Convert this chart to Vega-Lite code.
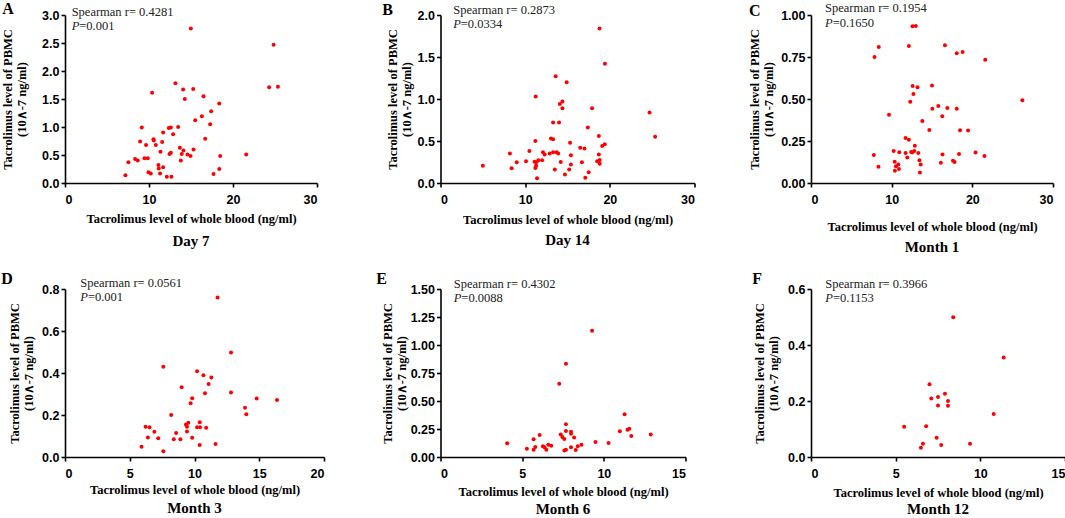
{
  "$schema": "https://vega.github.io/schema/vega-lite/v6.json",
  "background": "white",
  "padding": {"left": 1, "top": 0, "right": 2, "bottom": 0},
  "datasets": {
    "ann": [
      {"p": "A", "letter": "A", "r": "Spearman r= 0.4281", "pv": "=0.001"},
      {"p": "B", "letter": "B", "r": "Spearman r= 0.2873", "pv": "=0.0334"},
      {"p": "C", "letter": "C", "r": "Spearman r= 0.1954", "pv": "=0.1650"},
      {"p": "D", "letter": "D", "r": "Spearman r= 0.0561", "pv": "=0.001"},
      {"p": "E", "letter": "E", "r": "Spearman r= 0.4302", "pv": "=0.0088"},
      {"p": "F", "letter": "F", "r": "Spearman r= 0.3966", "pv": "=0.1153"}
    ],
    "pts": [
      {"p":"A","wb":14.98,"pbmc":2.76},{"p":"A","wb":24.83,"pbmc":2.47},{"p":"A","wb":24.3,"pbmc":1.71},{"p":"A","wb":25.35,"pbmc":1.72},{"p":"A","wb":13.15,"pbmc":1.78},{"p":"A","wb":10.37,"pbmc":1.61},{"p":"A","wb":14.06,"pbmc":1.67},{"p":"A","wb":15.26,"pbmc":1.68},{"p":"A","wb":14.26,"pbmc":1.5},{"p":"A","wb":16.49,"pbmc":1.55},{"p":"A","wb":18.36,"pbmc":1.42},{"p":"A","wb":17.4,"pbmc":1.28},{"p":"A","wb":16.29,"pbmc":1.19},{"p":"A","wb":15.5,"pbmc":1.12},{"p":"A","wb":17.28,"pbmc":1.05},{"p":"A","wb":9.14,"pbmc":0.99},{"p":"A","wb":12.36,"pbmc":0.98},{"p":"A","wb":12.6,"pbmc":0.99},{"p":"A","wb":13.47,"pbmc":1.0},{"p":"A","wb":11.68,"pbmc":0.9},{"p":"A","wb":12.87,"pbmc":0.87},{"p":"A","wb":16.69,"pbmc":0.79},{"p":"A","wb":8.94,"pbmc":0.74},{"p":"A","wb":10.53,"pbmc":0.78},{"p":"A","wb":10.57,"pbmc":0.76},{"p":"A","wb":9.65,"pbmc":0.68},{"p":"A","wb":10.81,"pbmc":0.68},{"p":"A","wb":11.56,"pbmc":0.73},{"p":"A","wb":13.67,"pbmc":0.63},{"p":"A","wb":14.1,"pbmc":0.58},{"p":"A","wb":11.37,"pbmc":0.56},{"p":"A","wb":15.3,"pbmc":0.6},{"p":"A","wb":12.44,"pbmc":0.52},{"p":"A","wb":12.6,"pbmc":0.54},{"p":"A","wb":13.9,"pbmc":0.52},{"p":"A","wb":14.58,"pbmc":0.51},{"p":"A","wb":14.94,"pbmc":0.48},{"p":"A","wb":18.47,"pbmc":0.48},{"p":"A","wb":21.57,"pbmc":0.51},{"p":"A","wb":9.46,"pbmc":0.44},{"p":"A","wb":9.85,"pbmc":0.44},{"p":"A","wb":8.34,"pbmc":0.43},{"p":"A","wb":8.66,"pbmc":0.4},{"p":"A","wb":7.55,"pbmc":0.37},{"p":"A","wb":13.79,"pbmc":0.4},{"p":"A","wb":11.12,"pbmc":0.32},{"p":"A","wb":11.68,"pbmc":0.28},{"p":"A","wb":11.16,"pbmc":0.26},{"p":"A","wb":18.36,"pbmc":0.25},{"p":"A","wb":9.93,"pbmc":0.19},{"p":"A","wb":10.21,"pbmc":0.17},{"p":"A","wb":11.32,"pbmc":0.17},{"p":"A","wb":7.19,"pbmc":0.14},{"p":"A","wb":17.68,"pbmc":0.16},{"p":"A","wb":12.12,"pbmc":0.11},{"p":"A","wb":12.67,"pbmc":0.11},
      {"p":"B","wb":18.78,"pbmc":1.84},{"p":"B","wb":19.42,"pbmc":1.42},{"p":"B","wb":13.6,"pbmc":1.27},{"p":"B","wb":14.9,"pbmc":1.2},{"p":"B","wb":11.24,"pbmc":1.03},{"p":"B","wb":14.1,"pbmc":0.94},{"p":"B","wb":14.4,"pbmc":0.97},{"p":"B","wb":14.4,"pbmc":0.89},{"p":"B","wb":17.9,"pbmc":0.89},{"p":"B","wb":24.69,"pbmc":0.84},{"p":"B","wb":13.3,"pbmc":0.72},{"p":"B","wb":14.0,"pbmc":0.72},{"p":"B","wb":17.4,"pbmc":0.66},{"p":"B","wb":18.7,"pbmc":0.56},{"p":"B","wb":25.35,"pbmc":0.55},{"p":"B","wb":11.2,"pbmc":0.5},{"p":"B","wb":13.05,"pbmc":0.53},{"p":"B","wb":13.3,"pbmc":0.52},{"p":"B","wb":15.3,"pbmc":0.48},{"p":"B","wb":16.5,"pbmc":0.42},{"p":"B","wb":17.0,"pbmc":0.41},{"p":"B","wb":19.1,"pbmc":0.44},{"p":"B","wb":19.4,"pbmc":0.46},{"p":"B","wb":8.2,"pbmc":0.35},{"p":"B","wb":10.5,"pbmc":0.38},{"p":"B","wb":12.1,"pbmc":0.365},{"p":"B","wb":12.3,"pbmc":0.34},{"p":"B","wb":12.9,"pbmc":0.35},{"p":"B","wb":13.3,"pbmc":0.365},{"p":"B","wb":13.7,"pbmc":0.365},{"p":"B","wb":13.9,"pbmc":0.35},{"p":"B","wb":15.4,"pbmc":0.33},{"p":"B","wb":18.7,"pbmc":0.34},{"p":"B","wb":9.0,"pbmc":0.246},{"p":"B","wb":10.1,"pbmc":0.258},{"p":"B","wb":11.1,"pbmc":0.254},{"p":"B","wb":11.3,"pbmc":0.246},{"p":"B","wb":11.55,"pbmc":0.27},{"p":"B","wb":12.0,"pbmc":0.27},{"p":"B","wb":14.2,"pbmc":0.25},{"p":"B","wb":16.7,"pbmc":0.246},{"p":"B","wb":18.5,"pbmc":0.258},{"p":"B","wb":18.8,"pbmc":0.274},{"p":"B","wb":18.8,"pbmc":0.23},{"p":"B","wb":15.4,"pbmc":0.22},{"p":"B","wb":5.0,"pbmc":0.206},{"p":"B","wb":8.4,"pbmc":0.175},{"p":"B","wb":11.2,"pbmc":0.18},{"p":"B","wb":11.3,"pbmc":0.206},{"p":"B","wb":13.5,"pbmc":0.16},{"p":"B","wb":15.2,"pbmc":0.16},{"p":"B","wb":11.4,"pbmc":0.056},{"p":"B","wb":14.7,"pbmc":0.1},{"p":"B","wb":17.5,"pbmc":0.127},{"p":"B","wb":17.1,"pbmc":0.063},
      {"p":"C","wb":12.58,"pbmc":0.933},{"p":"C","wb":12.99,"pbmc":0.935},{"p":"C","wb":8.4,"pbmc":0.81},{"p":"C","wb":12.13,"pbmc":0.815},{"p":"C","wb":16.6,"pbmc":0.82},{"p":"C","wb":7.87,"pbmc":0.75},{"p":"C","wb":18.07,"pbmc":0.773},{"p":"C","wb":18.8,"pbmc":0.78},{"p":"C","wb":21.6,"pbmc":0.734},{"p":"C","wb":12.6,"pbmc":0.578},{"p":"C","wb":13.2,"pbmc":0.57},{"p":"C","wb":15.0,"pbmc":0.58},{"p":"C","wb":12.7,"pbmc":0.53},{"p":"C","wb":12.3,"pbmc":0.483},{"p":"C","wb":9.67,"pbmc":0.406},{"p":"C","wb":15.04,"pbmc":0.442},{"p":"C","wb":15.78,"pbmc":0.458},{"p":"C","wb":16.9,"pbmc":0.446},{"p":"C","wb":18.07,"pbmc":0.442},{"p":"C","wb":16.27,"pbmc":0.398},{"p":"C","wb":13.8,"pbmc":0.369},{"p":"C","wb":14.67,"pbmc":0.316},{"p":"C","wb":18.48,"pbmc":0.314},{"p":"C","wb":19.47,"pbmc":0.312},{"p":"C","wb":11.72,"pbmc":0.268},{"p":"C","wb":12.13,"pbmc":0.258},{"p":"C","wb":12.87,"pbmc":0.221},{"p":"C","wb":7.79,"pbmc":0.166},{"p":"C","wb":10.25,"pbmc":0.191},{"p":"C","wb":10.94,"pbmc":0.183},{"p":"C","wb":11.72,"pbmc":0.178},{"p":"C","wb":11.93,"pbmc":0.152},{"p":"C","wb":12.42,"pbmc":0.185},{"p":"C","wb":12.54,"pbmc":0.181},{"p":"C","wb":12.8,"pbmc":0.191},{"p":"C","wb":13.3,"pbmc":0.178},{"p":"C","wb":13.44,"pbmc":0.136},{"p":"C","wb":13.6,"pbmc":0.11},{"p":"C","wb":13.5,"pbmc":0.063},{"p":"C","wb":10.37,"pbmc":0.126},{"p":"C","wb":10.53,"pbmc":0.1},{"p":"C","wb":10.82,"pbmc":0.11},{"p":"C","wb":10.9,"pbmc":0.083},{"p":"C","wb":10.4,"pbmc":0.073},{"p":"C","wb":8.36,"pbmc":0.097},{"p":"C","wb":16.3,"pbmc":0.17},{"p":"C","wb":16.1,"pbmc":0.12},{"p":"C","wb":17.6,"pbmc":0.133},{"p":"C","wb":17.8,"pbmc":0.125},{"p":"C","wb":18.35,"pbmc":0.172},{"p":"C","wb":20.4,"pbmc":0.182},{"p":"C","wb":21.5,"pbmc":0.16},{"p":"C","wb":26.2,"pbmc":0.493},
      {"p":"D","wb":12.82,"pbmc":0.498},{"p":"D","wb":7.59,"pbmc":0.43},{"p":"D","wb":10.2,"pbmc":0.408},{"p":"D","wb":10.69,"pbmc":0.389},{"p":"D","wb":11.3,"pbmc":0.379},{"p":"D","wb":11.09,"pbmc":0.348},{"p":"D","wb":9.01,"pbmc":0.332},{"p":"D","wb":10.81,"pbmc":0.304},{"p":"D","wb":12.82,"pbmc":0.307},{"p":"D","wb":9.82,"pbmc":0.28},{"p":"D","wb":14.8,"pbmc":0.278},{"p":"D","wb":9.7,"pbmc":0.256},{"p":"D","wb":13.9,"pbmc":0.234},{"p":"D","wb":14.0,"pbmc":0.204},{"p":"D","wb":8.2,"pbmc":0.2},{"p":"D","wb":9.52,"pbmc":0.163},{"p":"D","wb":9.34,"pbmc":0.155},{"p":"D","wb":10.4,"pbmc":0.166},{"p":"D","wb":6.22,"pbmc":0.144},{"p":"D","wb":6.52,"pbmc":0.142},{"p":"D","wb":9.42,"pbmc":0.144},{"p":"D","wb":10.2,"pbmc":0.142},{"p":"D","wb":10.43,"pbmc":0.142},{"p":"D","wb":10.9,"pbmc":0.139},{"p":"D","wb":6.9,"pbmc":0.12},{"p":"D","wb":9.42,"pbmc":0.122},{"p":"D","wb":8.58,"pbmc":0.114},{"p":"D","wb":6.4,"pbmc":0.093},{"p":"D","wb":7.2,"pbmc":0.089},{"p":"D","wb":8.4,"pbmc":0.085},{"p":"D","wb":8.91,"pbmc":0.084},{"p":"D","wb":9.82,"pbmc":0.092},{"p":"D","wb":5.91,"pbmc":0.049},{"p":"D","wb":7.59,"pbmc":0.027},{"p":"D","wb":10.4,"pbmc":0.057},{"p":"D","wb":11.62,"pbmc":0.062},{"p":"D","wb":11.78,"pbmc":0.76},{"p":"D","wb":16.37,"pbmc":0.271},
      {"p":"E","wb":9.28,"pbmc":1.128},{"p":"E","wb":7.68,"pbmc":0.833},{"p":"E","wb":7.27,"pbmc":0.655},{"p":"E","wb":11.27,"pbmc":0.381},{"p":"E","wb":7.68,"pbmc":0.292},{"p":"E","wb":10.98,"pbmc":0.229},{"p":"E","wb":11.45,"pbmc":0.244},{"p":"E","wb":11.56,"pbmc":0.253},{"p":"E","wb":11.68,"pbmc":0.1875},{"p":"E","wb":12.87,"pbmc":0.202},{"p":"E","wb":7.68,"pbmc":0.232},{"p":"E","wb":7.99,"pbmc":0.226},{"p":"E","wb":7.99,"pbmc":0.208},{"p":"E","wb":7.36,"pbmc":0.202},{"p":"E","wb":6.07,"pbmc":0.196},{"p":"E","wb":7.46,"pbmc":0.179},{"p":"E","wb":7.58,"pbmc":0.161},{"p":"E","wb":8.18,"pbmc":0.173},{"p":"E","wb":5.7,"pbmc":0.158},{"p":"E","wb":9.49,"pbmc":0.134},{"p":"E","wb":10.29,"pbmc":0.125},{"p":"E","wb":4.08,"pbmc":0.122},{"p":"E","wb":8.63,"pbmc":0.11},{"p":"E","wb":8.4,"pbmc":0.095},{"p":"E","wb":6.6,"pbmc":0.11},{"p":"E","wb":6.78,"pbmc":0.1},{"p":"E","wb":6.27,"pbmc":0.095},{"p":"E","wb":6.37,"pbmc":0.086},{"p":"E","wb":5.8,"pbmc":0.089},{"p":"E","wb":5.29,"pbmc":0.074},{"p":"E","wb":5.7,"pbmc":0.065},{"p":"E","wb":6.48,"pbmc":0.065},{"p":"E","wb":7.99,"pbmc":0.086},{"p":"E","wb":8.28,"pbmc":0.0625},{"p":"E","wb":7.68,"pbmc":0.065},{"p":"E","wb":7.58,"pbmc":0.057},
      {"p":"F","wb":8.4,"pbmc":0.499},{"p":"F","wb":11.38,"pbmc":0.355},{"p":"F","wb":7.0,"pbmc":0.26},{"p":"F","wb":7.91,"pbmc":0.226},{"p":"F","wb":7.1,"pbmc":0.209},{"p":"F","wb":7.5,"pbmc":0.214},{"p":"F","wb":8.09,"pbmc":0.2},{"p":"F","wb":8.09,"pbmc":0.183},{"p":"F","wb":7.5,"pbmc":0.184},{"p":"F","wb":10.79,"pbmc":0.154},{"p":"F","wb":5.5,"pbmc":0.108},{"p":"F","wb":6.8,"pbmc":0.11},{"p":"F","wb":7.42,"pbmc":0.069},{"p":"F","wb":6.61,"pbmc":0.047},{"p":"F","wb":7.69,"pbmc":0.043},{"p":"F","wb":9.39,"pbmc":0.047},{"p":"F","wb":6.49,"pbmc":0.033}
    ]
  },
  "columns": 3,
  "bounds": "flush",
  "align": "none",
  "spacing": {"row": 106, "column": 116.5},
  "concat": [
    {
      "width": 252, "height": 168,
      "title": {"text": "Day 7", "offset": 9},
      "layer": [
        {"data": {"name": "pts"}, "transform": [{"filter": "datum.p === 'A'"}],
         "mark": {"type": "circle", "size": 16, "color": "#ff0000", "opacity": 1},
         "encoding": {
           "x": {"field": "wb", "type": "quantitative", "scale": {"domain": [0, 30], "nice": false}, "axis": {"values": [0, 10, 20, 30], "tickCount": 20, "title": "Tacrolimus level of whole blood (ng/ml)", "titlePadding": 7}},
           "y": {"field": "pbmc", "type": "quantitative", "scale": {"domain": [0, 3], "nice": false}, "axis": {"values": [0, 0.5, 1, 1.5, 2, 2.5, 3], "tickCount": 20, "format": ".1f", "title": ["Tacrolimus level of PBMC", "(10∧-7 ng/ml)"], "titlePadding": 13}}
         }},
        {"data": {"name": "ann"}, "transform": [{"filter": "datum.p === 'A'"}],
         "mark": {"type": "text", "font": "Liberation Serif", "fontSize": 12.5, "align": "left", "baseline": "alphabetic", "color": "#222"},
         "encoding": {"x": {"datum": 0.79}, "y": {"datum": 2.99}, "text": {"field": "r"}}},
        {"data": {"name": "ann"}, "transform": [{"filter": "datum.p === 'A'"}],
         "mark": {"type": "text", "font": "Liberation Serif", "fontSize": 12.5, "fontStyle": "italic", "align": "left", "baseline": "alphabetic", "color": "#222"},
         "encoding": {"x": {"datum": 0.79}, "y": {"datum": 2.74}, "text": {"value": "P"}}},
        {"data": {"name": "ann"}, "transform": [{"filter": "datum.p === 'A'"}],
         "mark": {"type": "text", "font": "Liberation Serif", "fontSize": 12.5, "align": "left", "baseline": "alphabetic", "dx": 7.6, "color": "#222"},
         "encoding": {"x": {"datum": 0.79}, "y": {"datum": 2.74}, "text": {"field": "pv"}}},
        {"data": {"name": "ann"}, "transform": [{"filter": "datum.p === 'A'"}],
         "mark": {"type": "text", "font": "Liberation Serif", "fontSize": 16, "fontWeight": "bold", "align": "left", "baseline": "alphabetic", "color": "#000"},
         "encoding": {"x": {"datum": -7.46}, "y": {"datum": 3.018}, "text": {"field": "letter"}}}
      ]
    },
    {
      "width": 254, "height": 168,
      "title": {"text": "Day 14", "offset": 7},
      "layer": [
        {"data": {"name": "pts"}, "transform": [{"filter": "datum.p === 'B'"}],
         "mark": {"type": "circle", "size": 16, "color": "#ff0000", "opacity": 1},
         "encoding": {
           "x": {"field": "wb", "type": "quantitative", "scale": {"domain": [0, 30], "nice": false}, "axis": {"values": [0, 10, 20, 30], "tickCount": 20, "title": "Tacrolimus level of whole blood (ng/ml)", "titlePadding": 8}},
           "y": {"field": "pbmc", "type": "quantitative", "scale": {"domain": [0, 2], "nice": false}, "axis": {"values": [0, 0.5, 1, 1.5, 2], "tickCount": 20, "format": ".1f", "title": ["Tacrolimus level of PBMC", "(10∧-7 ng/ml)"], "titlePadding": 4}}
         }},
        {"data": {"name": "ann"}, "transform": [{"filter": "datum.p === 'B'"}],
         "mark": {"type": "text", "font": "Liberation Serif", "fontSize": 12.5, "align": "left", "baseline": "alphabetic", "color": "#222"},
         "encoding": {"x": {"datum": 1.5}, "y": {"datum": 2.015}, "text": {"field": "r"}}},
        {"data": {"name": "ann"}, "transform": [{"filter": "datum.p === 'B'"}],
         "mark": {"type": "text", "font": "Liberation Serif", "fontSize": 12.5, "fontStyle": "italic", "align": "left", "baseline": "alphabetic", "color": "#222"},
         "encoding": {"x": {"datum": 1.5}, "y": {"datum": 1.84}, "text": {"value": "P"}}},
        {"data": {"name": "ann"}, "transform": [{"filter": "datum.p === 'B'"}],
         "mark": {"type": "text", "font": "Liberation Serif", "fontSize": 12.5, "align": "left", "baseline": "alphabetic", "dx": 7.6, "color": "#222"},
         "encoding": {"x": {"datum": 1.5}, "y": {"datum": 1.84}, "text": {"field": "pv"}}},
        {"data": {"name": "ann"}, "transform": [{"filter": "datum.p === 'B'"}],
         "mark": {"type": "text", "font": "Liberation Serif", "fontSize": 16, "fontWeight": "bold", "align": "left", "baseline": "alphabetic", "color": "#000"},
         "encoding": {"x": {"datum": -6.89}, "y": {"datum": 2.0}, "text": {"field": "letter"}}}
      ]
    },
    {
      "width": 242, "height": 168,
      "title": {"text": "Month 1", "offset": 7},
      "layer": [
        {"data": {"name": "pts"}, "transform": [{"filter": "datum.p === 'C'"}],
         "mark": {"type": "circle", "size": 16, "color": "#ff0000", "opacity": 1},
         "encoding": {
           "x": {"field": "wb", "type": "quantitative", "scale": {"domain": [0, 30], "nice": false}, "axis": {"values": [0, 10, 20, 30], "tickCount": 20, "title": "Tacrolimus level of whole blood (ng/ml)", "titlePadding": 15}},
           "y": {"field": "pbmc", "type": "quantitative", "scale": {"domain": [0, 1], "nice": false}, "axis": {"values": [0, 0.25, 0.5, 0.75, 1], "tickCount": 20, "format": ".2f", "title": ["Tacrolimus level of PBMC", "(10∧-7 ng/ml)"], "titlePadding": 5}}
         }},
        {"data": {"name": "ann"}, "transform": [{"filter": "datum.p === 'C'"}],
         "mark": {"type": "text", "font": "Liberation Serif", "fontSize": 12.5, "align": "left", "baseline": "alphabetic", "color": "#222"},
         "encoding": {"x": {"datum": 1.74}, "y": {"datum": 1.02}, "text": {"field": "r"}}},
        {"data": {"name": "ann"}, "transform": [{"filter": "datum.p === 'C'"}],
         "mark": {"type": "text", "font": "Liberation Serif", "fontSize": 12.5, "fontStyle": "italic", "align": "left", "baseline": "alphabetic", "color": "#222"},
         "encoding": {"x": {"datum": 1.74}, "y": {"datum": 0.93}, "text": {"value": "P"}}},
        {"data": {"name": "ann"}, "transform": [{"filter": "datum.p === 'C'"}],
         "mark": {"type": "text", "font": "Liberation Serif", "fontSize": 12.5, "align": "left", "baseline": "alphabetic", "dx": 7.6, "color": "#222"},
         "encoding": {"x": {"datum": 1.74}, "y": {"datum": 0.93}, "text": {"field": "pv"}}},
        {"data": {"name": "ann"}, "transform": [{"filter": "datum.p === 'C'"}],
         "mark": {"type": "text", "font": "Liberation Serif", "fontSize": 16, "fontWeight": "bold", "align": "left", "baseline": "alphabetic", "color": "#000"},
         "encoding": {"x": {"datum": -7.69}, "y": {"datum": 0.996}, "text": {"field": "letter"}}}
      ]
    },
    {
      "width": 259, "height": 168,
      "title": {"text": "Month 3", "offset": 5},
      "layer": [
        {"data": {"name": "pts"}, "transform": [{"filter": "datum.p === 'D'"}],
         "mark": {"type": "circle", "size": 16, "color": "#ff0000", "opacity": 1},
         "encoding": {
           "x": {"field": "wb", "type": "quantitative", "scale": {"domain": [0, 20], "nice": false}, "axis": {"values": [0, 5, 10, 15, 20], "tickCount": 20, "title": "Tacrolimus level of whole blood (ng/ml)", "titlePadding": 4}},
           "y": {"field": "pbmc", "type": "quantitative", "scale": {"domain": [0, 0.8], "nice": false}, "axis": {"values": [0, 0.2, 0.4, 0.6, 0.8], "tickCount": 20, "format": ".1f", "title": ["Tacrolimus level of PBMC", "(10∧-7 ng/ml)"], "titlePadding": 6}}
         }},
        {"data": {"name": "ann"}, "transform": [{"filter": "datum.p === 'D'"}],
         "mark": {"type": "text", "font": "Liberation Serif", "fontSize": 12.5, "align": "left", "baseline": "alphabetic", "color": "#222"},
         "encoding": {"x": {"datum": 1.18}, "y": {"datum": 0.808}, "text": {"field": "r"}}},
        {"data": {"name": "ann"}, "transform": [{"filter": "datum.p === 'D'"}],
         "mark": {"type": "text", "font": "Liberation Serif", "fontSize": 12.5, "fontStyle": "italic", "align": "left", "baseline": "alphabetic", "color": "#222"},
         "encoding": {"x": {"datum": 1.18}, "y": {"datum": 0.745}, "text": {"value": "P"}}},
        {"data": {"name": "ann"}, "transform": [{"filter": "datum.p === 'D'"}],
         "mark": {"type": "text", "font": "Liberation Serif", "fontSize": 12.5, "align": "left", "baseline": "alphabetic", "dx": 7.6, "color": "#222"},
         "encoding": {"x": {"datum": 1.18}, "y": {"datum": 0.745}, "text": {"field": "pv"}}},
        {"data": {"name": "ann"}, "transform": [{"filter": "datum.p === 'D'"}],
         "mark": {"type": "text", "font": "Liberation Serif", "fontSize": 16, "fontWeight": "bold", "align": "left", "baseline": "alphabetic", "color": "#000"},
         "encoding": {"x": {"datum": -4.92}, "y": {"datum": 0.824}, "text": {"field": "letter"}}}
      ]
    },
    {
      "width": 245, "height": 168,
      "title": {"text": "Month 6", "offset": 4},
      "layer": [
        {"data": {"name": "pts"}, "transform": [{"filter": "datum.p === 'E'"}],
         "mark": {"type": "circle", "size": 16, "color": "#ff0000", "opacity": 1},
         "encoding": {
           "x": {"field": "wb", "type": "quantitative", "scale": {"domain": [0, 15], "nice": false}, "axis": {"values": [0, 5, 10, 15], "tickCount": 20, "title": "Tacrolimus level of whole blood (ng/ml)", "titlePadding": 5.5}},
           "y": {"field": "pbmc", "type": "quantitative", "scale": {"domain": [0, 1.5], "nice": false}, "axis": {"values": [0, 0.25, 0.5, 0.75, 1, 1.25, 1.5], "tickCount": 20, "format": ".2f", "title": ["Tacrolimus level of PBMC", "(10∧-7 ng/ml)"], "titlePadding": 2}}
         }},
        {"data": {"name": "ann"}, "transform": [{"filter": "datum.p === 'E'"}],
         "mark": {"type": "text", "font": "Liberation Serif", "fontSize": 12.5, "align": "left", "baseline": "alphabetic", "color": "#222"},
         "encoding": {"x": {"datum": 0.81}, "y": {"datum": 1.51}, "text": {"field": "r"}}},
        {"data": {"name": "ann"}, "transform": [{"filter": "datum.p === 'E'"}],
         "mark": {"type": "text", "font": "Liberation Serif", "fontSize": 12.5, "fontStyle": "italic", "align": "left", "baseline": "alphabetic", "color": "#222"},
         "encoding": {"x": {"datum": 0.81}, "y": {"datum": 1.385}, "text": {"value": "P"}}},
        {"data": {"name": "ann"}, "transform": [{"filter": "datum.p === 'E'"}],
         "mark": {"type": "text", "font": "Liberation Serif", "fontSize": 12.5, "align": "left", "baseline": "alphabetic", "dx": 7.6, "color": "#222"},
         "encoding": {"x": {"datum": 0.81}, "y": {"datum": 1.385}, "text": {"field": "pv"}}},
        {"data": {"name": "ann"}, "transform": [{"filter": "datum.p === 'E'"}],
         "mark": {"type": "text", "font": "Liberation Serif", "fontSize": 16, "fontWeight": "bold", "align": "left", "baseline": "alphabetic", "color": "#000"},
         "encoding": {"x": {"datum": -3.94}, "y": {"datum": 1.545}, "text": {"field": "letter"}}}
      ]
    },
    {
      "width": 254, "height": 168,
      "title": {"text": "Month 12", "offset": 3},
      "layer": [
        {"data": {"name": "pts"}, "transform": [{"filter": "datum.p === 'F'"}],
         "mark": {"type": "circle", "size": 16, "color": "#ff0000", "opacity": 1},
         "encoding": {
           "x": {"field": "wb", "type": "quantitative", "scale": {"domain": [0, 15], "nice": false}, "axis": {"values": [0, 5, 10, 15], "tickCount": 20, "title": "Tacrolimus level of whole blood (ng/ml)", "titlePadding": 7}},
           "y": {"field": "pbmc", "type": "quantitative", "scale": {"domain": [0, 0.6], "nice": false}, "axis": {"values": [0, 0.2, 0.4, 0.6], "tickCount": 20, "format": ".1f", "title": ["Tacrolimus level of PBMC", "(10∧-7 ng/ml)"], "titlePadding": 7}}
         }},
        {"data": {"name": "ann"}, "transform": [{"filter": "datum.p === 'F'"}],
         "mark": {"type": "text", "font": "Liberation Serif", "fontSize": 12.5, "align": "left", "baseline": "alphabetic", "color": "#222"},
         "encoding": {"x": {"datum": 0.845}, "y": {"datum": 0.605}, "text": {"field": "r"}}},
        {"data": {"name": "ann"}, "transform": [{"filter": "datum.p === 'F'"}],
         "mark": {"type": "text", "font": "Liberation Serif", "fontSize": 12.5, "fontStyle": "italic", "align": "left", "baseline": "alphabetic", "color": "#222"},
         "encoding": {"x": {"datum": 0.845}, "y": {"datum": 0.555}, "text": {"value": "P"}}},
        {"data": {"name": "ann"}, "transform": [{"filter": "datum.p === 'F'"}],
         "mark": {"type": "text", "font": "Liberation Serif", "fontSize": 12.5, "align": "left", "baseline": "alphabetic", "dx": 7.6, "color": "#222"},
         "encoding": {"x": {"datum": 0.845}, "y": {"datum": 0.555}, "text": {"field": "pv"}}},
        {"data": {"name": "ann"}, "transform": [{"filter": "datum.p === 'F'"}],
         "mark": {"type": "text", "font": "Liberation Serif", "fontSize": 16, "fontWeight": "bold", "align": "left", "baseline": "alphabetic", "color": "#000"},
         "encoding": {"x": {"datum": -3.47}, "y": {"datum": 0.618}, "text": {"field": "letter"}}}
      ]
    }
  ],
  "config": {
    "view": {"stroke": null},
    "axis": {
      "grid": false, "domainColor": "#000", "domainWidth": 1.6, "tickColor": "#000", "tickWidth": 1.6, "tickSize": 4,
      "labelFont": "Liberation Sans", "labelFontWeight": "bold", "labelFontSize": 12.5, "labelColor": "#000", "labelPadding": 2, "labelOverlap": false,
      "titleFont": "Liberation Serif", "titleFontWeight": "bold", "titleFontSize": 12.5, "titleColor": "#000"
    },
    "axisX": {"labelPadding": 6},
    "axisY": {"titleLineHeight": 14},
    "title": {"font": "Liberation Serif", "fontSize": 15, "fontWeight": "bold", "color": "#000", "orient": "bottom", "anchor": "middle", "frame": "group"}
  }
}
